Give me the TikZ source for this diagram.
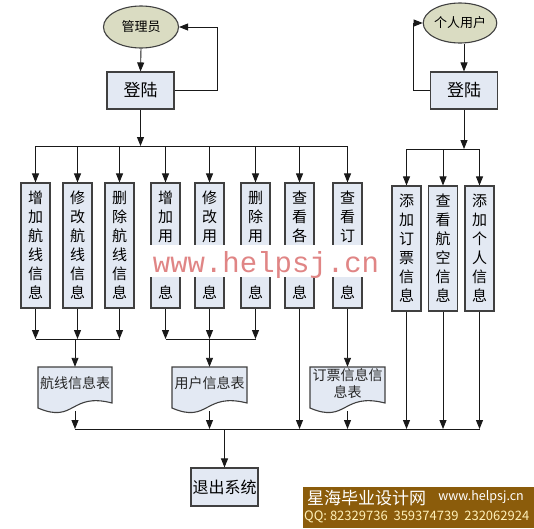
\documentclass[tikz,border=0pt]{standalone}
\usepackage{fontspec}
\newfontfamily\cjk{Noto Sans CJK SC}
\newfontfamily\wmfont{Liberation Mono}
\usetikzlibrary{shapes.geometric,arrows.meta}
\definecolor{boxfill}{HTML}{E3E9F3}
\definecolor{ellfill}{HTML}{DADCC2}
\definecolor{bordc}{HTML}{404040}
\definecolor{wmcol}{HTML}{E08585}
\definecolor{banner}{HTML}{8B5C0B}
\definecolor{qqcol}{HTML}{FFF0B8}
\newcommand{\hid}{\phantom{用}}
\begin{document}
\begin{tikzpicture}[x=1pt,y=-1pt,
  ln/.style={line width=0.9pt,draw=black!90},
  arr/.style={ln,-{Triangle[length=9pt,width=7pt]}},
  box/.style={draw=bordc,line width=1.1pt,fill=boxfill,inner sep=0pt},
  ell/.style={ellipse,draw=bordc,line width=1.1pt,fill=ellfill,inner sep=0pt,font=\cjk\fontsize{13}{15}\selectfont},
  bigbox/.style={box,minimum width=67pt,minimum height=37pt,font=\cjk\fontsize{17}{19}\selectfont},
  col/.style={box,minimum width=29pt,minimum height=125pt,align=center,font=\cjk\fontsize{15}{19}\selectfont},
  docframe/.style={inner sep=0pt,minimum width=74pt},
  doctxt/.style={inner sep=0pt,align=center,font=\cjk\fontsize{14}{17}\selectfont,text=black!85},
  docshape/.style={draw=bordc,line width=1.1pt,fill=boxfill}
]
\useasboundingbox (0,0) rectangle (534,528);
\fill[white] (0,0) rectangle (534,528);

% --- top left
\node[ell,minimum width=75pt,minimum height=42pt] (adm) at (141,27) {管理员};
\node[bigbox] (login1) at (140.5,90.5) {登陆};
\coordinate (lp1) at (217,27);
\draw[arr] (adm.south) -- (login1.north);
\draw[arr] (login1.east) -| (lp1) -- (adm.east);

% --- top right
\node[ell,minimum width=66pt,minimum height=40pt] (usr) at (460,23) {个人用户};
\node[bigbox] (login2) at (464,90.5) {登陆};
\coordinate (lp2) at (413,23);
\draw[arr] (usr.south -| login2.north) -- (login2.north);
\draw[arr] (login2.west) -| (lp2) -- (usr.west);

% --- columns
\node[col] (c1) at (35.5,245.5) {增\\加\\航\\线\\信\\息};
\node[col] (c2) at (77.5,245.5) {修\\改\\航\\线\\信\\息};
\node[col] (c3) at (119.5,245.5) {删\\除\\航\\线\\信\\息};
\node[col] (c4) at (165.5,245.5) {增\\加\\用\\\hid\\\hid\\息};
\node[col] (c5) at (209.5,245.5) {修\\改\\用\\\hid\\\hid\\息};
\node[col] (c6) at (255.5,245.5) {删\\除\\用\\\hid\\\hid\\息};
\node[col] (c7) at (299.5,245.5) {查\\看\\各\\\hid\\\hid\\息};
\node[col] (c8) at (347.5,245.5) {查\\看\\订\\\hid\\\hid\\息};
\node[col] (r1) at (406.5,248.5) {添\\加\\订\\票\\信\\息};
\node[col] (r2) at (443,248.5) {查\\看\\航\\空\\信\\息};
\node[col] (r3) at (479.5,248.5) {添\\加\\个\\人\\信\\息};

% bus lines coordinates
\coordinate (bt) at (0,146);
\coordinate (brt) at (0,149);
\coordinate (bm) at (0,339);
\coordinate (bb) at (0,429);

% top buses
\draw[ln] (c1.north |- bt) -- (c8.north |- bt);
\draw[arr] (login1.south) -- (login1.south |- bt);
\foreach \n in {c1,c2,c3,c4,c5,c6,c7,c8}
  \draw[arr] (\n.north |- bt) -- (\n.north);
\draw[ln] (r1.north |- brt) -- (r3.north |- brt);
\draw[arr] (login2.south) -- (login2.south |- brt);
\foreach \n in {r1,r2,r3}
  \draw[arr] (\n.north |- brt) -- (\n.north);

% --- documents
\draw[docshape] (38,367) -- (112,367) -- (112,403) .. controls (70,392) and (75,424) .. (38,408) -- cycle;
\draw[docshape] (172,367) -- (247,367) -- (247,403) .. controls (204,392) and (209,424) .. (172,408) -- cycle;
\draw[docshape] (310,367) -- (385,367) -- (385,403) .. controls (342,392) and (347,424) .. (310,408) -- cycle;
\node[docframe,minimum height=44pt] (d1) at (75,389) {};
\node[docframe,minimum height=44pt] (d2) at (209.5,389) {};
\node[docframe,minimum height=44pt] (d3) at (347.5,389) {};
\node[doctxt] (d1t) at (75,383) {航线信息表};
\node[doctxt] (d2t) at (209.5,383) {用户信息表};
\node[doctxt] (d3t) at (347.5,384) {订票信息信\\息表};

% middle buses
\foreach \n in {c1,c2,c3,c4,c5,c6}
  \draw[arr] (\n.south) -- (\n.south |- bm);
\draw[ln] (c1.south |- bm) -- (c3.south |- bm);
\draw[ln] (c4.south |- bm) -- (c6.south |- bm);
\draw[arr] (d1.north |- bm) -- (d1.north);
\draw[arr] (d2.north |- bm) -- (d2.north);
\draw[arr] (c8.south) -- (d3.north);

% bottom bus
\draw[ln] (d1.south |- bb) -- (r3.south |- bb);
\foreach \n in {d1,d2,d3,c7,r1,r2,r3}
  \draw[arr] (\n.south) -- (\n.south |- bb);

\node[bigbox,minimum height=38pt,font=\cjk\fontsize{16}{18}\selectfont] (ex) at (224.5,487) {退出系统};
\draw[arr] (ex.north |- bb) -- (ex.north);

% --- watermark
\fill[white] (147,245) rectangle (385,277);
\node[anchor=base,inner sep=0pt,text=wmcol,font=\wmfont\fontsize{29}{29}\selectfont] (wm) at (266,272) {www.helpsj.cn};

% --- banner
\fill[banner] (303,487) rectangle (534,528);
\node[anchor=west,inner sep=0pt,text=white,font=\cjk\fontsize{17}{19}\selectfont] (bn1) at (307,498) {星海毕业设计网};
\node[anchor=east,inner sep=0pt,text=white,font=\cjk\fontsize{12.5}{14}\selectfont] (bn2) at (524,497) {www.helpsj.cn};
\node[anchor=west,inner sep=0pt,text=qqcol,font=\cjk\fontsize{13}{15}\selectfont] (bn3) at (304,517) {QQ: 82329736\ \ 359374739\ \ 232062924};
\end{tikzpicture}
\end{document}
